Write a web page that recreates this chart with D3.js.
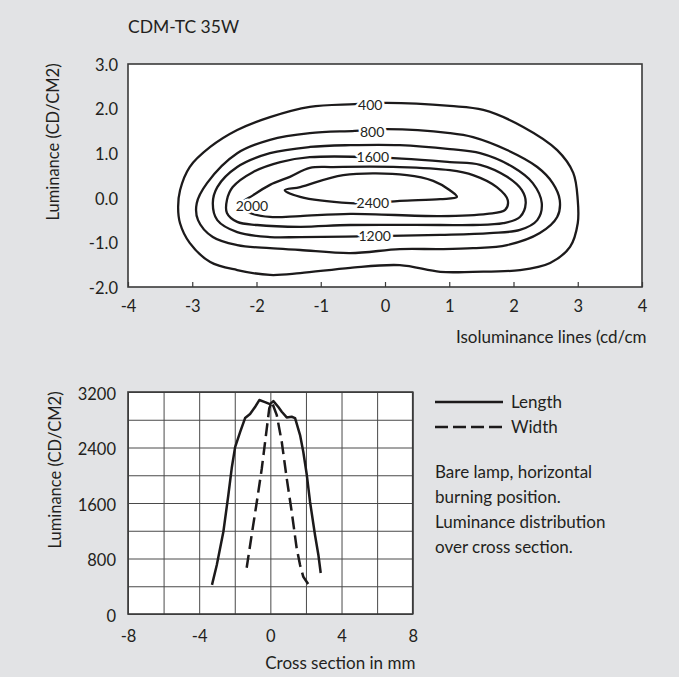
<!DOCTYPE html>
<html><head><meta charset="utf-8">
<script src="https://cdn.jsdelivr.net/npm/d3@7"></script>
<style>
html,body{margin:0;padding:0;background:#e2e3e5;}
svg{display:block;}
text{font-family:Lato,"Open Sans",sans-serif;fill:#231f20;}
</style></head><body>
<svg id="c" width="679" height="677"></svg>
<script>
// ---------- data ----------
const chartTitle = "CDM-TC 35W";
const contourXTicks = [-4,-3,-2,-1,0,1,2,3,4];
const contourYTicks = [-2,-1,0,1,2,3];
const contourLevels = ["400","800","1200","1600","2000","2400"];
const contour400 = [[-1.17,2.04],[-0.47,2.10],[0.03,2.13],[1.01,2.06],[1.53,1.97],[2.15,1.59],[2.68,1.07],[2.93,0.56],[3.00,-0.05],[3.00,-0.57],[2.88,-1.10],[2.57,-1.46],[2.10,-1.62],[1.37,-1.66],[0.86,-1.66],[0.23,-1.51],[-0.54,-1.57],[-1.32,-1.69],[-1.79,-1.73],[-2.30,-1.62],[-2.72,-1.44],[-3.04,-1.01],[-3.19,-0.57],[-3.22,-0.21],[-3.19,0.17],[-3.04,0.69],[-2.72,1.14],[-2.30,1.52],[-1.79,1.81]];
const contour800 = [[-1.17,1.45],[-0.47,1.50],[0.03,1.54],[1.01,1.45],[1.37,1.36],[1.90,1.07],[2.37,0.69],[2.61,0.33],[2.72,-0.05],[2.68,-0.43],[2.41,-0.79],[1.90,-1.06],[1.37,-1.13],[0.86,-1.15],[0.23,-1.15],[-0.54,-1.24],[-1.32,-1.17],[-1.79,-1.13],[-2.30,-1.06],[-2.68,-0.88],[-2.91,-0.50],[-2.93,-0.12],[-2.77,0.33],[-2.30,1.00],[-1.79,1.30]];
const contour1200 = [[-1.17,1.14],[-0.54,1.18],[0.23,1.18],[1.01,1.09],[1.48,1.00],[1.99,0.69],[2.30,0.33],[2.44,-0.12],[2.37,-0.50],[2.10,-0.72],[1.63,-0.79],[0.86,-0.83],[-0.16,-0.86],[-1.32,-0.88],[-1.79,-0.88],[-2.30,-0.77],[-2.61,-0.50],[-2.68,-0.12],[-2.61,0.24],[-2.30,0.69],[-1.79,1.00]];
const contour1600 = [[-1.17,0.91],[-0.19,0.91],[1.01,0.80],[1.48,0.74],[1.90,0.47],[2.13,0.17],[2.19,-0.12],[2.10,-0.43],[1.84,-0.57],[1.37,-0.61],[0.86,-0.61],[-0.54,-0.61],[-1.32,-0.65],[-1.99,-0.61],[-2.30,-0.54],[-2.46,-0.34],[-2.46,-0.05],[-2.37,0.24],[-2.05,0.58],[-1.63,0.80]];
const contour2000 = [[-1.17,0.67],[-0.81,0.69],[0.23,0.69],[1.01,0.62],[1.37,0.51],[1.74,0.24],[1.91,-0.05],[1.87,-0.27],[1.59,-0.36],[0.86,-0.41],[-0.54,-0.36],[-1.32,-0.41],[-1.79,-0.43],[-2.10,-0.34],[-2.26,-0.16],[-2.05,0.06],[-1.79,0.29],[-1.48,0.47]];
const contour2400 = [[-1.56,0.17],[-1.32,0.24],[-0.65,0.51],[0.34,0.51],[0.75,0.38],[1.01,0.17],[1.12,0.02],[0.86,-0.03],[0.23,-0.07],[-0.19,-0.12],[-0.54,-0.12],[-1.32,0.02]];
const contourLabelX = [-0.23,-0.20,-0.16,-0.19,-2.07,-0.19];
const contourLabelY = [2.09,1.48,-0.86,0.91,-0.18,-0.12];
const contourXTitle = "Isoluminance lines (cd/cm";
const yTitle = "Luminance (CD/CM2)";

const crossXTicks = [-8,-4,0,4,8];
const crossXGrid = [-8,-6,-4,-2,0,2,4,6,8];
const crossYTicks = [0,800,1600,2400,3200];
const crossYGrid = [0,400,800,1200,1600,2000,2400,2800,3200];
const lengthX = [-3.28,-3.01,-2.64,-2.36,-2.17,-1.98,-1.70,-1.42,-1.14,-0.86,-0.62,-0.30,-0.02,0.17,0.45,0.64,0.92,1.20,1.39,1.67,1.85,2.05,2.23,2.51,2.70,2.83];
const lengthY = [420,706,1186,1715,2104,2406,2622,2824,2882,2983,3084,3055,3026,3069,2983,2915,2834,2843,2824,2579,2339,2003,1618,1138,850,591];
const widthX = [-1.33,-1.05,-0.76,-0.48,-0.20,-0.06,0.08,0.36,0.64,0.92,1.20,1.48,1.67,1.85,2.23];
const widthY = [667,1138,1618,2099,2676,2964,3060,2868,2483,1955,1474,947,706,538,393];
const crossXTitle = "Cross section in mm";
const legendNames = ["Length","Width"];
const noteLines = ["Bare lamp, horizontal","burning position.","Luminance distribution","over cross section."];

// ---------- drawing ----------
const svg = d3.select("#c");
const ink = "#1c1a1b";
const frameCol = "#3a3a3a";
svg.append("rect").attr("width",679).attr("height",677).attr("fill","#e2e3e5");

svg.append("text").attr("x",128).attr("y",33).attr("font-size",17.5).text(chartTitle);

// top chart
const x1 = d3.scaleLinear().domain([-4,4]).range([128,642]);
const y1 = d3.scaleLinear().domain([-2,3]).range([287,64]);
const g1 = svg.append("g");
g1.append("rect").attr("x",x1(-4)).attr("y",y1(3)).attr("width",x1(4)-x1(-4)).attr("height",y1(-2)-y1(3)).attr("fill","#fff");
svg.append("clipPath").attr("id","clip1").append("rect").attr("x",x1(-4)).attr("y",y1(3)).attr("width",x1(4)-x1(-4)).attr("height",y1(-2)-y1(3));

const xa1 = g1.append("g").attr("transform",`translate(0,${y1(-2)})`)
  .call(d3.axisBottom(x1).tickValues(contourXTicks).tickSizeInner(-5).tickSizeOuter(0).tickPadding(13).tickFormat(d=>String(d)));
xa1.select(".domain").remove();
xa1.selectAll("line").attr("stroke",frameCol).attr("stroke-width",1.2);
xa1.selectAll("text").attr("font-size",16.5).attr("font-family","Lato").attr("fill","#231f20");

const ya1 = g1.append("g").attr("transform",`translate(${x1(-4)},0)`)
  .call(d3.axisLeft(y1).tickValues(contourYTicks).tickSize(0).tickPadding(10).tickFormat(d=>d.toFixed(1)));
ya1.select(".domain").remove();
ya1.selectAll("text").attr("font-size",16.5).attr("font-family","Lato").attr("fill","#231f20").attr("dy","0.38em");

const contours = [contour400,contour800,contour1200,contour1600,contour2000,contour2400];
const cline = d3.line().x(d=>x1(d[0])).y(d=>y1(d[1])).curve(d3.curveCatmullRomClosed.alpha(0.5));
const cg = g1.append("g").attr("clip-path","url(#clip1)");
cg.selectAll("path").data(contours).join("path").attr("d",cline)
  .attr("fill","none").attr("stroke",ink).attr("stroke-width",2.3).attr("stroke-linejoin","round");
cg.selectAll("text").data(contourLevels).join("text")
  .attr("x",(d,i)=>x1(contourLabelX[i])).attr("y",(d,i)=>y1(contourLabelY[i]))
  .attr("dy","0.36em").attr("text-anchor","middle").attr("font-size",14)
  .attr("stroke","#fff").attr("stroke-width",5).attr("paint-order","stroke").text(d=>d);

g1.append("rect").attr("x",x1(-4)).attr("y",y1(3)).attr("width",x1(4)-x1(-4)).attr("height",y1(-2)-y1(3))
  .attr("fill","none").attr("stroke",frameCol).attr("stroke-width",1.6);

svg.append("text").attr("x",456).attr("y",343).attr("font-size",17).text(contourXTitle);
svg.append("text").attr("transform","translate(59,142) rotate(-90)").attr("text-anchor","middle").attr("font-size",16.5).text(yTitle);

// bottom chart
const x2 = d3.scaleLinear().domain([-8,8]).range([128,412.7]);
const y2 = d3.scaleLinear().domain([0,3200]).range([614,392]);
const g2 = svg.append("g");
g2.append("rect").attr("x",x2(-8)).attr("y",y2(3200)).attr("width",x2(8)-x2(-8)).attr("height",y2(0)-y2(3200)).attr("fill","#fff");
const gx = g2.append("g").attr("transform",`translate(0,${y2(0)})`)
  .call(d3.axisBottom(x2).tickValues(crossXGrid).tickSize(-(y2(0)-y2(3200))).tickFormat(""));
gx.select(".domain").remove();
gx.selectAll("line").attr("stroke","#4a4a4a").attr("stroke-width",1);
const gy = g2.append("g").attr("transform",`translate(${x2(-8)},0)`)
  .call(d3.axisLeft(y2).tickValues(crossYGrid).tickSize(-(x2(8)-x2(-8))).tickFormat(""));
gy.select(".domain").remove();
gy.selectAll("line").attr("stroke","#4a4a4a").attr("stroke-width",1);

const xa2 = g2.append("g").attr("transform",`translate(0,${y2(0)})`)
  .call(d3.axisBottom(x2).tickValues(crossXTicks).tickSize(0).tickPadding(16).tickFormat(d=>String(d)));
xa2.select(".domain").remove();
xa2.selectAll("text").attr("font-size",16.5).attr("font-family","Lato").attr("fill","#231f20");
const ya2 = g2.append("g").attr("transform",`translate(${x2(-8)},0)`)
  .call(d3.axisLeft(y2).tickValues(crossYTicks).tickSize(0).tickPadding(12).tickFormat(d=>String(d)));
ya2.select(".domain").remove();
ya2.selectAll("text").attr("font-size",16.5).attr("font-family","Lato").attr("fill","#231f20").attr("dy","0.45em");

const lenData = lengthX.map((v,i)=>[v,lengthY[i]]);
const widData = widthX.map((v,i)=>[v,widthY[i]]);
const pline = d3.line().x(d=>x2(d[0])).y(d=>y2(d[1]));
g2.append("path").attr("d",pline(lenData)).attr("fill","none").attr("stroke",ink).attr("stroke-width",2.5).attr("stroke-linejoin","round");
g2.append("path").attr("d",pline(widData)).attr("fill","none").attr("stroke",ink).attr("stroke-width",2.5).attr("stroke-dasharray","13,6");

g2.append("rect").attr("x",x2(-8)).attr("y",y2(3200)).attr("width",x2(8)-x2(-8)).attr("height",y2(0)-y2(3200))
  .attr("fill","none").attr("stroke",frameCol).attr("stroke-width",1.6);

svg.append("text").attr("x",x2(0)+70).attr("y",669).attr("text-anchor","middle").attr("font-size",17).text(crossXTitle);
svg.append("text").attr("transform","translate(61,470) rotate(-90)").attr("text-anchor","middle").attr("font-size",16.5).text(yTitle);

// legend
const lg = svg.append("g");
lg.append("line").attr("x1",435).attr("x2",503).attr("y1",402).attr("y2",402).attr("stroke",ink).attr("stroke-width",2.3);
lg.append("line").attr("x1",435).attr("x2",503).attr("y1",427).attr("y2",427).attr("stroke",ink).attr("stroke-width",2.3).attr("stroke-dasharray","13,5");
lg.selectAll("text.leg").data(legendNames).join("text").attr("class","leg")
  .attr("x",511).attr("y",(d,i)=>408+i*25).attr("font-size",17).text(d=>d);
lg.selectAll("text.note").data(noteLines).join("text").attr("class","note")
  .attr("x",435).attr("y",(d,i)=>478+i*25).attr("font-size",17).text(d=>d);
</script>
</body></html>
